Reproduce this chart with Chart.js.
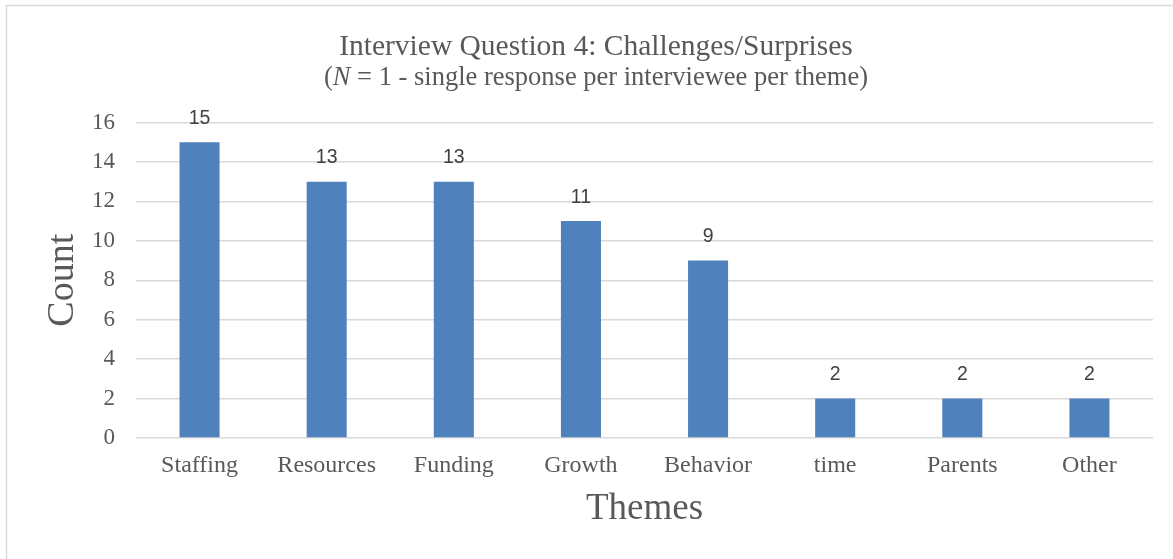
<!DOCTYPE html>
<html>
<head>
<meta charset="utf-8">
<script src="https://cdn.jsdelivr.net/npm/chart.js@4.4.1/dist/chart.umd.min.js"></script>
<style>
  html, body { margin: 0; padding: 0; background: #fff; }
  #wrap { position: relative; width: 1173px; height: 559px; }
</style>
</head>
<body>
<div id="wrap"><canvas id="chart"></canvas></div>
<script>
// themes and how many interviewees raised each one
const themes = ['Staffing', 'Resources', 'Funding', 'Growth', 'Behavior', 'time', 'Parents', 'Other'];
const counts = [15, 13, 13, 11, 9, 2, 2, 2];
const yTicks = [0, 2, 4, 6, 8, 10, 12, 14, 16];

const serif = '"Liberation Serif", "Times New Roman", serif';
const textGray = '#595959';

// frame lines along the top and left edge
const framePlugin = {
    id: 'frame',
    beforeDraw(chart) {
        const ctx = chart.ctx;
        ctx.save();
        ctx.fillStyle = '#fff';
        ctx.fillRect(0, 0, chart.width, chart.height);
        ctx.strokeStyle = '#d9d9d9';
        ctx.lineWidth = 1.5;
        ctx.beginPath();
        ctx.moveTo(6.5, chart.height);
        ctx.lineTo(6.5, 5.5);
        ctx.lineTo(chart.width, 5.5);
        ctx.stroke();
        ctx.restore();
    }
};

// two-line heading, the N in the second line is italic
const headingPlugin = {
    id: 'heading',
    afterDraw(chart) {
        const ctx = chart.ctx;
        const cx = 596;
        ctx.save();
        ctx.fillStyle = textGray;
        ctx.textBaseline = 'alphabetic';
        ctx.textAlign = 'center';
        ctx.font = '29.5px ' + serif;
        ctx.fillText('Interview Question 4: Challenges/Surprises', cx, 55);

        const parts = [
            { t: '(', f: '26.5px ' + serif },
            { t: 'N', f: 'italic 26.5px ' + serif },
            { t: ' = 1 - single response per interviewee per theme)', f: '26.5px ' + serif }
        ];
        let total = 0;
        parts.forEach(p => { ctx.font = p.f; p.w = ctx.measureText(p.t).width; total += p.w; });
        let x = cx - total / 2;
        ctx.textAlign = 'left';
        parts.forEach(p => { ctx.font = p.f; ctx.fillText(p.t, x, 85); x += p.w; });
        ctx.restore();
    }
};

// value above each bar
const valueLabels = {
    id: 'valueLabels',
    afterDatasetsDraw(chart) {
        const ctx = chart.ctx;
        const meta = chart.getDatasetMeta(0);
        ctx.save();
        ctx.fillStyle = '#404040';
        ctx.font = '19.5px "Liberation Sans", Arial, sans-serif';
        ctx.textAlign = 'center';
        ctx.textBaseline = 'alphabetic';
        meta.data.forEach((bar, i) => {
            ctx.fillText(String(counts[i]), bar.x, bar.y - 18.5);
        });
        ctx.restore();
    }
};

new Chart(document.getElementById('chart'), {
    type: 'bar',
    data: {
        labels: themes,
        datasets: [{
            data: counts,
            backgroundColor: '#4f81bd',
            borderWidth: 0,
            categoryPercentage: 1,
            barPercentage: 0.315
        }]
    },
    options: {
        responsive: true,
        maintainAspectRatio: false,
        animation: false,
        events: [],
        layout: { padding: { top: 122.5, right: 20, left: 0, bottom: 0 } },
        plugins: {
            legend: { display: false },
            title: { display: false },
            tooltip: { enabled: false }
        },
        scales: {
            x: {
                grid: { display: false, drawTicks: false },
                border: { display: false },
                ticks: { color: textGray, font: { family: serif, size: 24 }, padding: 13.5 },
                title: {
                    display: true, text: 'Themes', color: textGray,
                    font: { family: serif, size: 37 }, padding: { top: 0, bottom: 28 }
                },
                afterFit(scale) { scale.height = 121; }
            },
            y: {
                min: 0,
                max: 16,
                afterBuildTicks(scale) { scale.ticks = yTicks.map(v => ({ value: v })); },
                grid: { color: '#d9d9d9', lineWidth: 1.5, drawTicks: false },
                border: { display: false },
                ticks: { color: textGray, font: { family: serif, size: 23 }, padding: 21 },
                title: {
                    display: true, text: 'Count', color: textGray,
                    font: { family: serif, size: 38 }, padding: { top: 40, bottom: 0 }
                },
                afterFit(scale) { scale.width = 136; }
            }
        }
    },
    plugins: [framePlugin, headingPlugin, valueLabels]
});
</script>
</body>
</html>
